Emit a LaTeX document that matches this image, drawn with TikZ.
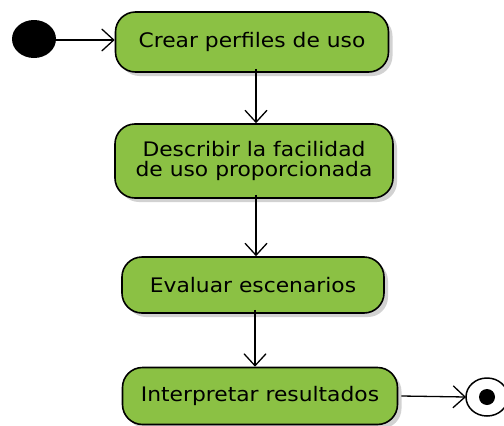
\documentclass[tikz,border=0pt]{standalone}
\usepackage{fontspec}
\setmainfont[FakeStretch=1.09]{DejaVu Sans}
\usetikzlibrary{arrows.meta,shadows,positioning}
\definecolor{actgreen}{RGB}{139,193,68}
\tikzset{
  act/.style={draw=black, line width=1.6pt, fill=actgreen, rounded corners=20pt,
    align=center, font=\fontsize{20}{20}\selectfont, inner sep=0pt,
    drop shadow={shadow xshift=4pt, shadow yshift=-4pt, fill=black!35, opacity=0.5}},
  flow/.style={line width=1.3pt, -{Straight Barb[length=12pt,width=22pt,line width=1.3pt]}}
}
\begin{document}
\begin{tikzpicture}[x=1pt,y=-1pt]
\useasboundingbox (0,0) rectangle (504,426);
\fill (34,39) ellipse [x radius=22, y radius=19];
\coordinate (start) at (56,40);
\node[act, minimum width=273pt, minimum height=60pt] (a1) at (252,42) {Crear perfiles de uso};
\node[act, minimum width=278pt, minimum height=74pt] (a2) at (254,161) {Describir la facilidad\\de uso proporcionada};
\node[act, minimum width=262pt, minimum height=56pt] (a3) at (253,285) {Evaluar escenarios};
\node[act, minimum width=275pt, minimum height=57pt] (a4) at (260,396) {Interpretar resultados};
\draw[line width=1.5pt, fill=white] (487,397) ellipse [x radius=21, y radius=19];
\fill (487,397) ellipse [x radius=8, y radius=8];
\coordinate (fin) at (466,397);
\draw[flow] (start) -- (a1.west |- start);
\draw[flow] ([yshift=4pt]a1.south -| 256,0) -- (a2.north -| 256,0);
\draw[flow] ([yshift=4pt]a2.south -| 256,0) -- (a3.north -| 256,0);
\draw[flow] ([yshift=4pt]a3.south -| 255,0) -- (a4.north -| 255,0);
\draw[flow] ([xshift=3pt]a4.east) -- (fin);
\end{tikzpicture}
\end{document}
